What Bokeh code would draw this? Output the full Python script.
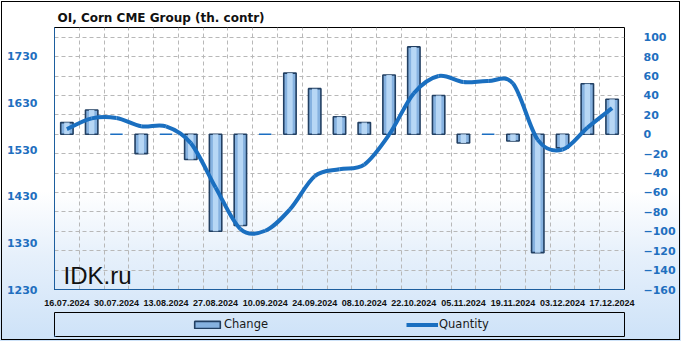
from bokeh.plotting import figure
from bokeh.layouts import column
from bokeh.models import (Range1d, LinearAxis, FixedTicker, Legend, LegendItem,
                          Label, ColumnDataSource)
from bokeh.embed import file_html
from bokeh.resources import INLINE

# ---------------- data ----------------
dates = ["16.07.2024", "23.07.2024", "30.07.2024", "06.08.2024", "13.08.2024",
         "20.08.2024", "27.08.2024", "03.09.2024", "10.09.2024", "17.09.2024",
         "24.09.2024", "01.10.2024", "08.10.2024", "15.10.2024", "22.10.2024",
         "29.10.2024", "05.11.2024", "12.11.2024", "19.11.2024", "26.11.2024",
         "03.12.2024", "10.12.2024", "17.12.2024"]
change = [12, 25, 0, -20, 0, -26, -100, -94, 0, 63, 47, 18, 12, 61, 90, 40,
          -9, 0, -7, -122, -14, 52, 36]
quantity = [1574, 1597, 1598, 1580, 1580, 1544, 1449, 1360, 1356, 1402, 1473,
            1488, 1498, 1562, 1651, 1688, 1675, 1677, 1672, 1551, 1530, 1577, 1619]
left_ticks = [1230, 1330, 1430, 1530, 1630, 1730]
right_ticks = [-160, -140, -120, -100, -80, -60, -40, -20, 0, 20, 40, 60, 80, 100]

BLUE = "#1a6fc0"
TICK_BLUE = "#1f6fbf"
BAR_FILL = "#86b2e0"
BAR_HI = "#bcdaf7"
BAR_LINE = "#213f62"

xs = list(range(len(dates)))

p = figure(width=681, height=308, output_backend="svg", toolbar_location=None,
           x_range=Range1d(-0.5, len(dates) - 0.5), y_range=Range1d(-160, 110),
           y_axis_location="right", min_border_left=54, min_border_right=57,
           min_border_top=27, min_border_bottom=17)
p.extra_y_ranges = {"qty": Range1d(1230, 1792)}
p.background_fill_color = None
p.border_fill_color = None
p.outline_line_color = "black"
p.outline_line_width = 1

# title
p.title.text = "OI,  Corn  CME  Group  (th. contr)"
p.title.text_font = "DejaVu Sans"
p.title.text_font_style = "bold"
p.title.text_font_size = "12px"
p.title.text_color = "#111111"
p.title.offset = 3
p.title.standoff = 6

# axes
right_axis = p.yaxis[0]
right_axis.ticker = FixedTicker(ticks=right_ticks)
left_axis = LinearAxis(y_range_name="qty", ticker=FixedTicker(ticks=left_ticks))
p.add_layout(left_axis, "left")
for ax in (left_axis, right_axis):
    ax.major_tick_line_color = None
    ax.minor_tick_line_color = None
    ax.major_label_text_font = "DejaVu Sans"
    ax.major_label_text_font_style = "bold"
    ax.major_label_text_font_size = "11px"
    ax.major_label_text_color = TICK_BLUE
right_axis.axis_line_color = None
right_axis.major_label_standoff = 13
left_axis.axis_line_color = "#1d5e9e"
left_axis.major_label_standoff = 11

xa = p.xaxis[0]
xa.ticker = FixedTicker(ticks=xs[::2])
xa.major_label_overrides = {i: dates[i] for i in xs}
xa.major_tick_line_color = None
xa.minor_tick_line_color = None
xa.axis_line_color = "#1d5e9e"
xa.major_label_text_font = "Liberation Sans"
xa.major_label_text_font_style = "bold"
xa.major_label_text_font_size = "9px"
xa.major_label_text_color = "#111111"
xa.major_label_standoff = 4

# grids
p.xgrid.ticker = FixedTicker(ticks=[i + 0.5 for i in xs[:-1]])
p.ygrid.ticker = FixedTicker(ticks=right_ticks)
for g in (p.xgrid, p.ygrid):
    g.grid_line_color = "#b8b8b8"
    g.grid_line_dash = "4 3"
    g.grid_line_width = 1

# bars
bar_line = ["#1b6ec2" if v == 0 else BAR_LINE for v in change]
src = ColumnDataSource(dict(x=xs, top=change, line=bar_line))
p.vbar(x="x", top="top", bottom=0, width=0.5, source=src,
       fill_color=BAR_FILL, line_color="line", line_width=1.6)
p.vbar(x="x", top="top", bottom=0, width=0.22, source=src,
       fill_color=BAR_HI, fill_alpha=0.9, line_color=None)

# smoothed quantity line (cubic Bezier segments through the points)
n = len(quantity)
k = 1.0 / 6.0
seg = dict(x0=[], y0=[], x1=[], y1=[], cx0=[], cy0=[], cx1=[], cy1=[])
for i in range(n - 1):
    im, i2 = max(i - 1, 0), min(i + 2, n - 1)
    seg["x0"].append(xs[i]); seg["y0"].append(quantity[i])
    seg["x1"].append(xs[i + 1]); seg["y1"].append(quantity[i + 1])
    seg["cx0"].append(xs[i] + (xs[i + 1] - xs[im]) * k)
    seg["cy0"].append(quantity[i] + (quantity[i + 1] - quantity[im]) * k)
    seg["cx1"].append(xs[i + 1] - (xs[i2] - xs[i]) * k)
    seg["cy1"].append(quantity[i + 1] - (quantity[i2] - quantity[i]) * k)
p.bezier(source=ColumnDataSource(seg), y_range_name="qty",
         line_color=BLUE, line_width=4)

# watermark
p.add_layout(Label(x=9, y=14, x_units="screen", y_units="screen", text="IDK.ru",
                   text_font="Liberation Sans", text_font_size="24px",
                   text_color="#111111", text_baseline="alphabetic"))

# ---------------- legend strip (boxed) ----------------
# key renderers reuse the series but sit outside this strip's visible range
lg = figure(width=681, height=33, output_backend="svg", toolbar_location=None,
            x_range=Range1d(1000, 1001), y_range=Range1d(1000, 1001),
            x_axis_location=None, y_axis_location=None,
            min_border_left=54, min_border_right=56,
            min_border_top=4, min_border_bottom=5)
lg.background_fill_color = None
lg.border_fill_color = None
lg.outline_line_color = "black"
lg.outline_line_width = 1
lg.xgrid.visible = False
lg.ygrid.visible = False
bar_key = lg.vbar(x=xs, top=change, width=0.5, fill_color=BAR_FILL,
                  line_color=BAR_LINE, line_width=1.6)
line_key = lg.line(x=xs, y=quantity, line_color=BLUE, line_width=4)
legend = Legend(items=[LegendItem(label="Change", renderers=[bar_key]),
                       LegendItem(label="Quantity", renderers=[line_key])],
                orientation="horizontal", location=(137, 4),
                padding=0, margin=0, spacing=0, glyph_width=32, glyph_height=9,
                label_width=182, label_height=16, label_standoff=1,
                label_text_font="DejaVu Sans", label_text_font_size="11.5px",
                label_text_color="#1a1a1a",
                border_line_color=None, background_fill_color=None)
lg.add_layout(legend, "center")

layout = column(p, lg, spacing=0)
layout.styles = {
    "background-image": "linear-gradient(to bottom, #ffffff 0%, #ffffff 56%, #e6f0fb 75%, #cde2f8 100%)",
    "outline": "1px solid black",
    "outline-offset": "-2px",
}

open("out.html", "w").write(file_html(layout, INLINE))
